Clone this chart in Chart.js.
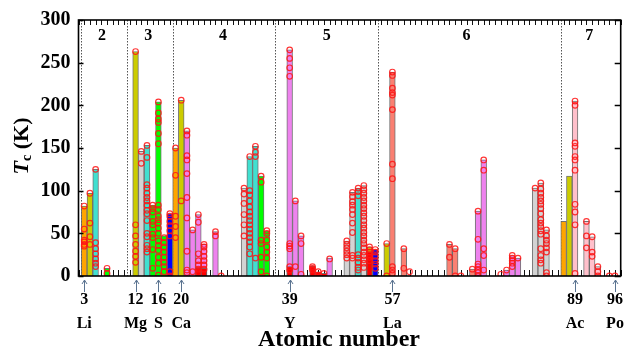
<!DOCTYPE html>
<html><head><meta charset="utf-8">
<script src="https://cdn.jsdelivr.net/npm/chart.js@4.4.0/dist/chart.umd.min.js"></script>
<style>html,body{margin:0;padding:0;background:#fff;}#wrap{width:639px;height:351px;position:relative;}</style>
</head><body><div id="wrap"><canvas id="c"></canvas></div>
<script>
// ---------- DATA ----------
const elementZ = [3,4,5,7,12,13,14,15,16,17,18,19,20,21,22,23,24,26,27,31,32,33,34,35,39,40,41,43,44,45,46,49,50,51,52,53,54,56,57,59,60,67,68,69,71,72,73,76,77,78,79,82,83,84,87,88,89,91,92,93,95,96];
const barTc = [82,97,125,9,263,146,153,83,204,47,73,150,206,170,54,72,37,52,null,103,140,152,117,53,265,88,47,12,5,3,21,41,98,103,106,34,31,38,239,32,null,37,32,null,8,76,136,null,7,24,21,103,109,54,64,117,205,64,46,11,null,null];
const barKind = ['orange','yellow','cyan','green','yellow','gray','cyan','green','green','green','blue','orange','yellow','violet','violet','violet','violet','violet',null,'gray','cyan','cyan','green','green','violet','violet','violet','red','red','red','violet','gray','gray','cyan','gray','yellow','blue','yellow','salmon','salmon',null,'salmon','salmon',null,'salmon','violet','violet',null,'violet','violet','violet','gray','gray','gray','orange','yellow','pink','pink','pink','pink',null,null];
const circleTc = [
 [82,55,42,40,37,35],
 [97,62,46,37],
 [125,39,32,26,20,15,11],
 [9,3],
 [263,60,47,37,29,23,16],
 [146,132],
 [153,139,107,103,97,92,88,83,77,73,65,50,46,36,32,28],
 [83,79,75,64,60,49,45,31,9],
 [204,191,184,180,167,155,83,78,70,66,62,56,50,41,36,30,22,15,1],
 [45,39,34,28,22,16,11,5],
 [73,70,64,59,53,47,5,0],
 [150,118,70,58,45],
 [206,88],
 [170,165,141,136,120,92,68,29,7,4],
 [54,5],
 [72,63,26,18,13,8,4],
 [37,34,29,23,18,13,8],
 [52,47],
 [0],
 [103,96,85,72,60,47],
 [140,100,95,88,81,75,70,65,60,55,50,45,40,34,26],
 [152,145,140,21],
 [117,110,42,38,22,5],
 [53,50,42,34,28,21,0],
 [265,255,244,234,38,35,32,11,7],
 [88,11],
 [47,38,2],
 [11,9,7],
 [5,1],
 [3],
 [20],
 [41,37,33,29,25,21],
 [98,93,87,83,78,72,62,51,24,21],
 [103,99,94,25,21,16,10,7],
 [106,101,97,92,88,83,79,74,70,65,60,56,51,47,42,38,33,28,24,19,15,10],
 [34,31,28,25,22,18],
 [31,28,23,18,14,9],
 [38,0],
 [239,235,220,215,212,195,131,114,11,7,3],
 [32,9],
 [5],
 [37,22],
 [32,0],
 [0],
 [8],
 [76,43,14,11,7,4,0],
 [136,124,32,24,7],
 [2],
 [7],
 [24,21,18,15,11],
 [21],
 [103],
 [109,102,97,92,88,84,79,73,66,62,58,53,49,32,24,19,15],
 [54,47,42,38,33,28,4,0],
 [],
 [],
 [205,200,156,152,140,136,124,84,75,60,3],
 [64,47,33],
 [46,28,23],
 [11,5,0],
 [0],
 [0]
];
const overlayZ = [23,24,39,53];
const overlayTc = [10,9,11,28];
const overlayKind = ['red','red','red','red'];
const labelZ = [3,12,16,20,39,57,89,96];
const labelSym = ['Li','Mg','S','Ca','Y','La','Ac','Po'];
const periodNames = ['2','3','4','5','6','7'];
const periodPos = [6.1,14.2,27.3,45.5,70.0,91.5];
const periodBounds = [2.5,10.5,18.5,36.5,54.5,86.5];
const yTicks = [0,50,100,150,200,250,300];
const xTitle = 'Atomic number';

// ---------- STYLE ----------
const palette = {orange:'#FFA500',yellow:'#CCCC00',cyan:'#40E0D0',green:'#00FF00',blue:'#0000FF',violet:'#EE82EE',gray:'#D3D3D3',salmon:'#FA8072',pink:'#FFC0CB',red:'#FF0000'};
const SERIF = "'Liberation Serif','Times New Roman',serif";

const mainBars = [];
const mainColors = [];
elementZ.forEach((z,i)=>{ if(barTc[i]!==null){ mainBars.push({x:z,y:barTc[i]}); mainColors.push(palette[barKind[i]]); }});
const overBars = overlayZ.map((z,i)=>({x:z,y:overlayTc[i]}));
const overColors = overlayKind.map(k=>palette[k]);
const pts = [];
elementZ.forEach((z,i)=>circleTc[i].forEach(v=>pts.push({x:z,y:v})));

const decor = {
  id:'decor',
  beforeDatasetsDraw(chart){
    const {ctx, chartArea:a, scales:{x,y}} = chart;
    ctx.save();
    ctx.strokeStyle='#555'; ctx.lineWidth=1; ctx.setLineDash([1.5,1.5]);
    periodBounds.forEach(b=>{const px=Math.round(x.getPixelForValue(b))+0.5;ctx.beginPath();ctx.moveTo(px,a.top);ctx.lineTo(px,a.bottom);ctx.stroke();});
    ctx.setLineDash([]);
    ctx.strokeStyle='#111'; ctx.lineWidth=1;
    for(let z=2; z<=97; z++){
      const px=Math.round(x.getPixelForValue(z))+0.5;
      ctx.beginPath();ctx.moveTo(px,a.top);ctx.lineTo(px,a.top+5);ctx.stroke();
      ctx.beginPath();ctx.moveTo(px,a.bottom);ctx.lineTo(px,a.bottom-6);ctx.stroke();
    }
    ctx.restore();
  },
  afterDatasetsDraw(chart){
    const {ctx, chartArea:a, scales:{x,y}} = chart;
    ctx.save();
    ctx.strokeStyle='#000'; ctx.lineWidth=1.5;
    yTicks.forEach(t=>{const py=Math.round(y.getPixelForValue(t))+0.5;
      ctx.beginPath();ctx.moveTo(a.left,py);ctx.lineTo(a.left+5,py);ctx.stroke();
      ctx.beginPath();ctx.moveTo(a.right,py);ctx.lineTo(a.right-6,py);ctx.stroke();});
    ctx.lineWidth=1.6;
    ctx.strokeRect(a.left,a.top,a.right-a.left,a.bottom-a.top);
    ctx.fillStyle='#000'; ctx.font='bold 16px '+SERIF; ctx.textAlign='center'; ctx.textBaseline='middle';
    periodNames.forEach((n,i)=>ctx.fillText(n,x.getPixelForValue(periodPos[i]),36));
    ctx.restore();
  },
  afterDraw(chart){
    const {ctx, chartArea:a, scales:{x}} = chart;
    ctx.save();
    ctx.strokeStyle='#5a7390'; ctx.fillStyle='#5a7390'; ctx.lineWidth=1;
    labelZ.forEach(z=>{const px=Math.round(x.getPixelForValue(z))+0.5;
      ctx.beginPath();ctx.moveTo(px,a.bottom+4);ctx.lineTo(px,a.bottom+16);ctx.stroke();
      ctx.beginPath();ctx.moveTo(px-2.5,a.bottom+8);ctx.lineTo(px,a.bottom+4);ctx.lineTo(px+2.5,a.bottom+8);ctx.stroke();});
    // x title
    ctx.fillStyle='#000'; ctx.font='bold 24px '+SERIF; ctx.textAlign='center'; ctx.textBaseline='middle';
    ctx.fillText(xTitle,339,340);
    // y title
    ctx.translate(22,146); ctx.rotate(-Math.PI/2);
    ctx.textBaseline='middle'; ctx.textAlign='left';
    const f1='italic bold 22px '+SERIF, f2='bold 14px '+SERIF, f3='bold 22px '+SERIF;
    ctx.font=f1; const w1=ctx.measureText('T').width;
    ctx.font=f2; const w2=ctx.measureText('c').width;
    ctx.font=f3; const w3=ctx.measureText(' (K)').width;
    let sx=-(w1+w2+w3)/2;
    ctx.font=f1; ctx.fillText('T',sx,0); sx+=w1;
    ctx.font=f2; ctx.fillText('c',sx,5); sx+=w2;
    ctx.font=f3; ctx.fillText(' (K)',sx,0);
    ctx.restore();
  }
};

new Chart(document.getElementById('c'),{
  type:'bar',
  data:{datasets:[
    {type:'scatter',data:pts,order:0,pointStyle:'circle',pointRadius:2.8,pointBorderWidth:1.2,pointBorderColor:'rgba(255,20,20,0.85)',pointBackgroundColor:'rgba(255,255,255,0)'},
    {data:overBars,order:1,grouped:false,backgroundColor:overColors,borderColor:'rgba(100,100,100,0.9)',borderWidth:1,barPercentage:1,categoryPercentage:1},
    {data:mainBars,order:2,grouped:false,backgroundColor:mainColors,borderColor:'rgba(100,100,100,0.9)',borderWidth:1,barPercentage:1,categoryPercentage:1}
  ]},
  options:{
    responsive:true,maintainAspectRatio:false,animation:false,
    layout:{padding:{top:15,right:18.3,left:0,bottom:0}},
    plugins:{legend:{display:false},tooltip:{enabled:false}},
    scales:{
      x:{type:'linear',min:2,max:97,offset:false,
        afterBuildTicks:s=>{s.ticks=labelZ.map(v=>({value:v}));},
        afterFit:s=>{s.height=75;},
        grid:{display:false,drawTicks:false,offset:false},border:{display:false},
        ticks:{autoSkip:false,maxRotation:0,padding:12,color:'#000',font:{family:SERIF,weight:'bold',size:16,lineHeight:1.5},
          callback:v=>{const i=labelZ.indexOf(v);return i<0?'':[String(v),labelSym[i]];}},
        title:{display:false}
      },
      y:{min:0,max:300,afterFit:s=>{s.width=78.5;},
        afterBuildTicks:s=>{s.ticks=yTicks.map(v=>({value:v}));},
        grid:{display:false,drawTicks:false},border:{display:false},
        ticks:{padding:8,color:'#000',font:{family:SERIF,weight:'bold',size:20}}
      }
    }
  },
  plugins:[decor]
});
</script></body></html>
